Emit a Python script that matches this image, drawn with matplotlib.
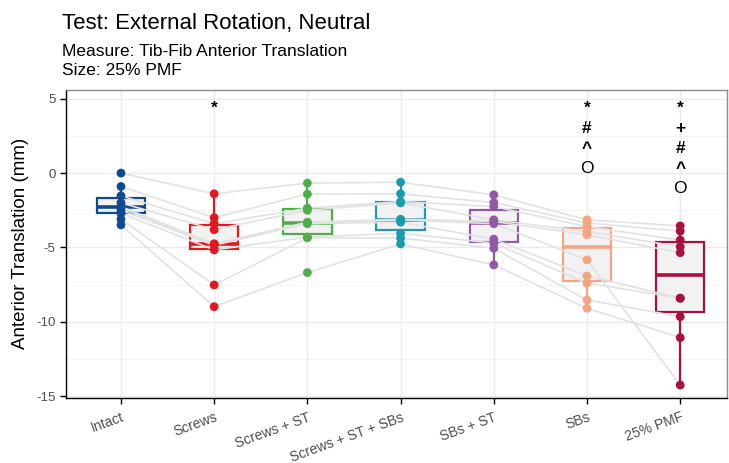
import matplotlib
matplotlib.use("Agg")
import matplotlib.pyplot as plt
import numpy as np

plt.rcParams['font.family'] = ['Liberation Sans', 'DejaVu Sans']

conditions = ["Intact", "Screws", "Screws + ST", "Screws + ST + SBs",
              "SBs + ST", "SBs", "25% PMF"]

# Anterior translation (mm) per specimen, same specimen order in every condition
intact = [0.0, -0.9, -1.53, -2.0, -2.25, -2.35, -2.5, -2.7, -3.1, -3.48]
screws = [-1.39, -3.0, -3.4, -3.8, -4.75, -4.8, -4.85, -5.16, -7.52, -8.98]
screws_st = [-0.67, -1.41, -2.36, -2.5, -3.3, -3.35, -3.4, -4.3, -4.35, -6.69]
screws_st_sbs = [-0.61, -1.39, -1.91, -2.0, -3.1, -3.14, -3.3, -4.04, -4.37, -4.76]
sbs_st = [-1.46, -1.98, -2.25, -3.14, -3.25, -3.4, -4.44, -4.71, -5.05, -6.17]
sbs = [-3.14, -3.35, -3.6, -3.93, -4.15, -5.83, -6.91, -7.4, -8.53, -9.09]
pmf25 = [-3.55, -3.9, -4.5, -4.95, -5.35, -14.25, -8.41, -8.41, -9.65, -11.06]

series = [intact, screws, screws_st, screws_st_sbs, sbs_st, sbs, pmf25]
colors = ["#0D4A8F", "#E3171F", "#4CAF47", "#1A9BAE", "#9158A6", "#F4A582", "#A8103D"]

# significance markers stacked above each condition
markers = {1: ["*"], 5: ["*", "#", "^", "O"], 6: ["*", "+", "#", "^", "O"]}
marker_top = 4.35
marker_step = 1.35

fig = plt.figure(figsize=(7.29, 4.63), dpi=100)
ax = fig.add_axes([0.0905, 0.141, 0.9065, 0.665])

x = np.arange(1, len(conditions) + 1)

# grid
for yv in np.arange(-15, 5.1, 5):
    ax.axhline(yv, color="#EBEBEB", lw=1.0, zorder=0)
for yv in np.arange(-12.5, 5.1, 5):
    ax.axhline(yv, color="#F2F2F2", lw=0.6, zorder=0)
for xv in x:
    ax.axvline(xv, color="#EBEBEB", lw=1.0, zorder=0)

# boxes
for xi, vals, c in zip(x, series, colors):
    ax.boxplot([vals], positions=[xi], widths=0.52, patch_artist=True,
               showfliers=False, showcaps=False,
               boxprops=dict(facecolor="#F2F2F2", edgecolor=c, linewidth=1.6),
               medianprops=dict(color=c, linewidth=2.6),
               whiskerprops=dict(color=c, linewidth=1.6),
               zorder=1)

# specimen lines
data = np.array(series)
for j in range(data.shape[1]):
    ax.plot(x, data[:, j], color="#E2E2E2", lw=1.2, zorder=2)

# points
for xi, vals, c in zip(x, series, colors):
    ax.scatter(np.full(len(vals), xi), vals, s=40, color=c, zorder=3,
               edgecolors="none")

# significance markers
for idx, syms in markers.items():
    for k, s in enumerate(syms):
        ax.text(x[idx], marker_top - k * marker_step, s, ha="center",
                va="center", fontsize=12.5,
                fontweight="normal" if s == "O" else "bold",
                color="black", zorder=4)

ax.set_xlim(0.41, 7.5)
ax.set_ylim(-15.1, 5.6)
ax.set_yticks([-15, -10, -5, 0, 5])
ax.set_yticklabels(["-15", "-10", "-5", "0", "5"])
ax.set_xticks(x)
ax.set_xticklabels(conditions, rotation=20, ha="right", rotation_mode="anchor")
ax.tick_params(axis="both", colors="black", labelcolor="#4D4D4D",
               labelsize=9.5, length=4, width=1)
ax.tick_params(axis="x", labelsize=10, pad=5)

for side in ["top", "right"]:
    ax.spines[side].set_color("#8C8C8C")
    ax.spines[side].set_linewidth(1.0)
for side in ["left", "bottom"]:
    ax.spines[side].set_color("black")
    ax.spines[side].set_linewidth(1.0)

ax.set_ylabel("Anterior Translation (mm)", fontsize=13.5, color="black", labelpad=5)

fig.text(0.085, 0.937, "Test: External Rotation, Neutral", fontsize=16,
         ha="left", va="baseline")
fig.text(0.085, 0.879, "Measure: Tib-Fib Anterior Translation", fontsize=12.5,
         ha="left", va="baseline")
fig.text(0.085, 0.838, "Size: 25% PMF", fontsize=12.5, ha="left", va="baseline")

fig.savefig("out.png", dpi=100)
